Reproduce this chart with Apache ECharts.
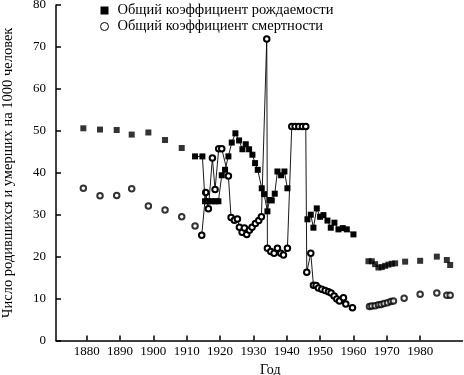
<!DOCTYPE html>
<html>
<head>
<meta charset="utf-8">
<script src="https://cdn.jsdelivr.net/npm/echarts@6/dist/echarts.min.js"></script>
<style>
html,body{margin:0;padding:0;background:#fff;}
#chart{width:464px;height:375px;}
</style>
</head>
<body>
<div id="chart"></div>
<script>
// ---- Data ----
const birthName = 'Общий коэффициент рождаемости';
const deathName = 'Общий коэффициент смертности';
const xTickYears = [1880, 1890, 1900, 1910, 1920, 1930, 1940, 1950, 1960, 1970, 1980];

// Birth rate: isolated points (no connecting line)
const birthDotYears = [1879, 1884, 1889, 1893.5, 1898.5, 1903.5, 1908.5,
  1964.5, 1965.5, 1966.5, 1967.5, 1968.5, 1969.5, 1970.5, 1971.5, 1972.5,
  1975.5, 1980, 1985, 1988, 1989];
const birthDotValues = [50.6, 50.3, 50.2, 49.1, 49.6, 47.8, 45.9,
  18.9, 18.9, 18.2, 17.4, 17.5, 17.8, 18.1, 18.3, 18.4,
  18.8, 19.0, 20.0, 19.2, 18.0];

// Birth rate: connected segment 1912-1940
const birthLine1Years = [1912.5, 1914.7, 1915.5, 1916.5, 1917.5, 1918.5, 1919.5, 1920.5, 1921.5,
  1922.5, 1923.5, 1924.6, 1925.7, 1926.7, 1927.7, 1928.7, 1929.7, 1930.5, 1931.3, 1932.5,
  1933.2, 1934.2, 1934.8, 1935.5, 1936.4, 1937.2, 1938.3, 1939.3, 1940.2];
const birthLine1Values = [43.9, 43.9, 33.2, 33.2, 33.2, 33.2, 33.2, 39.4, 40.7,
  43.9, 47.2, 49.4, 47.7, 45.6, 46.8, 45.6, 44.3, 42.3, 40.7, 36.3,
  34.9, 30.8, 33.5, 33.4, 35.0, 40.3, 39.4, 40.3, 36.3];

// Birth rate: connected segment 1946-1960
const birthLine2Years = [1946.2, 1947.2, 1948, 1949, 1950, 1951, 1952.2, 1953.2, 1954.3,
  1955.5, 1956.8, 1958, 1960];
const birthLine2Values = [28.9, 30.0, 26.9, 31.5, 29.5, 29.9, 28.6, 26.9, 28.1,
  26.5, 26.8, 26.5, 25.3];

// Death rate: isolated points
const deathDotYears = [1879, 1884, 1889, 1893.5, 1898.5, 1903.5, 1908.5, 1912.5,
  1964.8, 1965.5, 1966.5, 1967.5, 1968.3, 1969.2, 1970.2, 1971.2, 1972,
  1975.2, 1980, 1985, 1988, 1989];
const deathDotValues = [36.3, 34.5, 34.6, 36.2, 32.1, 31.1, 29.5, 27.3,
  8.1, 8.2, 8.3, 8.5, 8.6, 8.8, 9.0, 9.3, 9.4,
  10.1, 11.0, 11.3, 10.8, 10.8];

// Death rate: connected segment 1914-1960
const deathLineYears = [1914.5, 1915.7, 1916.5, 1917.7, 1918.5, 1919.6, 1920.5, 1922.5,
  1923.3, 1924.3, 1925.2, 1925.8, 1926.6, 1927.3, 1928.0, 1928.8, 1929.6, 1930.6, 1931.6, 1932.4,
  1934.0, 1934.2, 1935.2, 1936.2, 1937.2, 1938.2, 1939.0, 1940.2,
  1941.5, 1942.5, 1943.6, 1944.7, 1945.7,
  1946.0, 1947.2, 1948.0, 1948.8, 1949.5, 1950.5, 1951.5, 1952.5, 1953.3, 1954.2,
  1955.0, 1955.8, 1957.0, 1957.7, 1959.7];
const deathLineValues = [25.1, 35.3, 31.4, 43.5, 36.0, 45.7, 45.7, 39.2,
  29.3, 28.7, 29.0, 27.0, 25.8, 26.8, 25.3, 26.3, 27.0, 27.9, 28.6, 29.5,
  71.9, 22.0, 21.2, 20.8, 22.0, 20.8, 20.4, 22.0,
  51.0, 51.0, 51.0, 51.0, 51.0,
  16.3, 20.8, 13.2, 13.1, 12.5, 12.2, 11.9, 11.6, 11.3, 10.6,
  9.9, 9.4, 10.2, 8.7, 7.8];

// ---- Chart ----
const zip = (xs, ys) => xs.map((x, i) => [x, ys[i]]);
const FONT = '"Liberation Serif", "DejaVu Serif", serif';

const squareStyle = { color: '#000' };
const circleStyle = { color: '#000', borderColor: '#000', borderWidth: 0.9 };
const lineStyle = { color: '#000', width: 0.9 };

const chart = echarts.init(document.getElementById('chart'), null, { renderer: 'canvas' });
chart.setOption({
  animation: false,
  backgroundColor: '#fff',
  textStyle: { fontFamily: FONT, color: '#000' },
  grid: { left: 56, right: 1.5, top: 5, bottom: 34.5, containLabel: false, outerBoundsMode: 'none' },
  legend: {
    orient: 'vertical',
    left: 95,
    top: -2,
    itemWidth: 8,
    itemHeight: 8,
    itemGap: 1,
    selectedMode: false,
    textStyle: { fontFamily: FONT, fontSize: 14.5, color: '#000', lineHeight: 14, padding: [0, 0, 0, 4] },
    data: [
      { name: birthName, icon: 'rect', itemStyle: { color: '#000' } },
      { name: deathName, icon: 'circle', itemStyle: { color: '#fff', borderColor: '#000', borderWidth: 1 } }
    ]
  },
  xAxis: {
    type: 'value',
    min: 1870.8,
    max: 1992.7,
    name: 'Год',
    nameLocation: 'middle',
    nameGap: 21,
    nameTextStyle: { fontFamily: FONT, fontSize: 14, color: '#000', padding: [0, 0, 0, 22] },
    splitLine: { show: false },
    axisLine: { show: true, lineStyle: { color: '#000', width: 1.5 } },
    axisTick: { show: true, inside: true, length: 5, customValues: xTickYears, lineStyle: { color: '#000', width: 1.5 } },
    axisLabel: {
      customValues: xTickYears, margin: 5, fontFamily: FONT, fontSize: 13, color: '#000',
      formatter: function (v) { return String(Math.round(v)); }
    }
  },
  yAxis: {
    type: 'value',
    min: 0,
    max: 80,
    interval: 10,
    name: 'Число родившихся и умерших на 1000 человек',
    nameLocation: 'middle',
    nameGap: 40,
    nameTextStyle: { fontFamily: FONT, fontSize: 14.5, color: '#000' },
    splitLine: { show: false },
    axisLine: { show: true, lineStyle: { color: '#000', width: 1.5 } },
    axisTick: { show: true, inside: true, length: 5, lineStyle: { color: '#000', width: 1.5 } },
    axisLabel: { margin: 10, fontFamily: FONT, fontSize: 13, color: '#000' }
  },
  series: [
    {
      name: deathName, type: 'line', data: zip(deathLineYears, deathLineValues),
      symbol: 'emptyCircle', symbolSize: 5.5, showSymbol: true, showAllSymbol: true,
      lineStyle: lineStyle, itemStyle: circleStyle, z: 2
    },
    {
      name: deathName, type: 'scatter', data: zip(deathDotYears, deathDotValues),
      symbol: 'emptyCircle', symbolSize: 5.5, itemStyle: circleStyle, z: 2
    },
    {
      name: birthName, type: 'line', data: zip(birthLine1Years, birthLine1Values),
      symbol: 'rect', symbolSize: 6, showSymbol: true, showAllSymbol: true,
      lineStyle: lineStyle, itemStyle: squareStyle, z: 3
    },
    {
      name: birthName, type: 'line', data: zip(birthLine2Years, birthLine2Values),
      symbol: 'rect', symbolSize: 6, showSymbol: true, showAllSymbol: true,
      lineStyle: lineStyle, itemStyle: squareStyle, z: 3
    },
    {
      name: birthName, type: 'scatter', data: zip(birthDotYears, birthDotValues),
      symbol: 'rect', symbolSize: 6, itemStyle: squareStyle, z: 3
    }
  ]
});
</script>
</body>
</html>
